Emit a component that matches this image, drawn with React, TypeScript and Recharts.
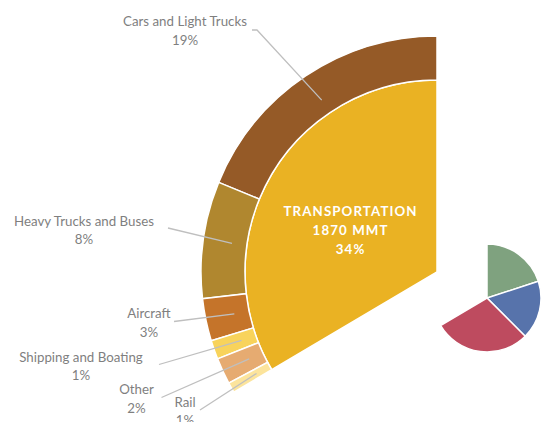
import React from "react";
import { PieChart, Pie, Cell } from "recharts";

// Breakdown of transportation emissions (share of total, %)
const subCategories = ["Cars and Light Trucks", "Heavy Trucks and Buses", "Aircraft", "Shipping and Boating", "Other", "Rail"];
const subValues = [18.8, 8.0, 2.9, 1.3, 1.8, 0.7];
const subColors = ["#955A27", "#B0872F", "#C5742A", "#F8D35B", "#E6AB71", "#FCE49C"];

// Main sector
const mainLabel = "TRANSPORTATION";
const mainAmount = "1870 MMT";
const mainValue = 33.5;
const mainColor = "#EAB223";

// Remaining sectors (small exploded pie)
const otherSectors = ["Sector A", "Sector B", "Sector C"];
const otherValues = [20, 17.5, 29];
const otherColors = ["#7FA27F", "#5773AB", "#BE4B5F"];

const total = 100;

// label layout (text centre and leader start), keyed by category
const labelLayout: Record<string, { tx: number; ty: number; lx: number; ly: number; hook?: number }> = {
  "Cars and Light Trucks": { tx: 185, ty: 21, lx: 252, ly: 30, hook: 5 },
  "Heavy Trucks and Buses": { tx: 84, ty: 220.5, lx: 168, ly: 228 },
  "Aircraft": { tx: 149, ty: 313, lx: 174, ly: 321.5 },
  "Shipping and Boating": { tx: 81, ty: 356.5, lx: 159, ly: 364.5 },
  "Other": { tx: 136.5, ty: 389, lx: 161.5, ly: 397.5 },
  "Rail": { tx: 185, ty: 401.5, lx: 200, ly: 410 },
};

const FONT = "Lato, 'Open Sans', sans-serif";
const RAD = Math.PI / 180;

const ringData = [
  ...subCategories.map((name, i) => ({ name, value: subValues[i], fill: subColors[i] })),
  { name: "__rest", value: total - subValues.reduce((a, b) => a + b, 0), fill: "none" },
];
const innerData = [
  { name: mainLabel, value: mainValue, fill: mainColor },
  { name: "__rest", value: total - mainValue, fill: "none" },
];
const smallData = [
  ...otherSectors.map((name, i) => ({ name, value: otherValues[i], fill: otherColors[i] })),
  { name: "__rest", value: mainValue, fill: "none" },
];

const ringLabel = (props: any) => {
  const { cx, cy, midAngle, innerRadius, index } = props;
  const name = ringData[index]?.name;
  const lay = labelLayout[name];
  if (!lay) return null;
  const r = innerRadius + 15;
  const ex = cx + r * Math.cos(-midAngle * RAD);
  const ey = cy + r * Math.sin(-midAngle * RAD);
  const pts = lay.hook
    ? `${lay.lx},${lay.ly} ${lay.lx + lay.hook},${lay.ly} ${ex},${ey}`
    : `${lay.lx},${lay.ly} ${ex},${ey}`;
  return (
    <g key={`lbl-${index}`}>
      <polyline points={pts} fill="none" stroke="#BFBFBF" strokeWidth={1.3} />
      <text x={lay.tx} y={lay.ty} textAnchor="middle" dominantBaseline="central" fill="#7F7F7F" fontSize={13.3} fontFamily={FONT}>
        {name}
      </text>
      <text x={lay.tx} y={lay.ty + 18.5} textAnchor="middle" dominantBaseline="central" fill="#7F7F7F" fontSize={13.3} fontFamily={FONT}>
        {`${Math.round(subValues[index])}%`}
      </text>
    </g>
  );
};

const innerLabel = (props: any) => {
  const { cx, cy, midAngle, outerRadius, index } = props;
  if (index !== 0) return null;
  const r = outerRadius * 0.5;
  const x = cx + r * Math.cos(-midAngle * RAD) - 3;
  const y = cy + r * Math.sin(-midAngle * RAD) + 6;
  const common = { textAnchor: "middle" as const, dominantBaseline: "central" as const, fill: "#FFFFFF", fontSize: 13.3, fontWeight: 700, fontFamily: FONT, letterSpacing: 1.1 };
  return (
    <g key="inner-lbl">
      <text x={x} y={y - 19.5} {...common}>{mainLabel}</text>
      <text x={x} y={y} {...common}>{mainAmount}</text>
      <text x={x} y={y + 19} {...common}>{`${Math.round(mainValue)}%`}</text>
    </g>
  );
};

export default function App() {
  return (
    <div style={{ position: "absolute", left: 0, top: 0, width: 542, height: 422, background: "#FFFFFF" }}>
      <PieChart width={542} height={422} margin={{ top: 0, right: 0, bottom: 0, left: 0 }}>
        <Pie
          data={innerData}
          dataKey="value"
          cx={437}
          cy={272}
          innerRadius={0}
          outerRadius={192}
          startAngle={90}
          endAngle={450}
          isAnimationActive={false}
          label={innerLabel}
          labelLine={false}
        >
          {innerData.map((d, i) => (
            <Cell key={i} fill={d.fill} stroke={d.fill === "none" ? "none" : "#FFFFFF"} strokeWidth={1.5} />
          ))}
        </Pie>
        <Pie
          data={ringData}
          dataKey="value"
          cx={437}
          cy={272}
          innerRadius={192}
          outerRadius={236}
          startAngle={90}
          endAngle={450}
          isAnimationActive={false}
          label={ringLabel}
          labelLine={false}
        >
          {ringData.map((d, i) => (
            <Cell key={i} fill={d.fill} stroke={d.fill === "none" ? "none" : "#FFFFFF"} strokeWidth={1.5} />
          ))}
        </Pie>
        <Pie
          data={smallData}
          dataKey="value"
          cx={487}
          cy={298}
          innerRadius={0}
          outerRadius={54}
          startAngle={90}
          endAngle={-270}
          isAnimationActive={false}
          labelLine={false}
        >
          {smallData.map((d, i) => (
            <Cell key={i} fill={d.fill} stroke={d.fill === "none" ? "none" : "#FFFFFF"} strokeWidth={1.5} />
          ))}
        </Pie>
      </PieChart>
    </div>
  );
}
